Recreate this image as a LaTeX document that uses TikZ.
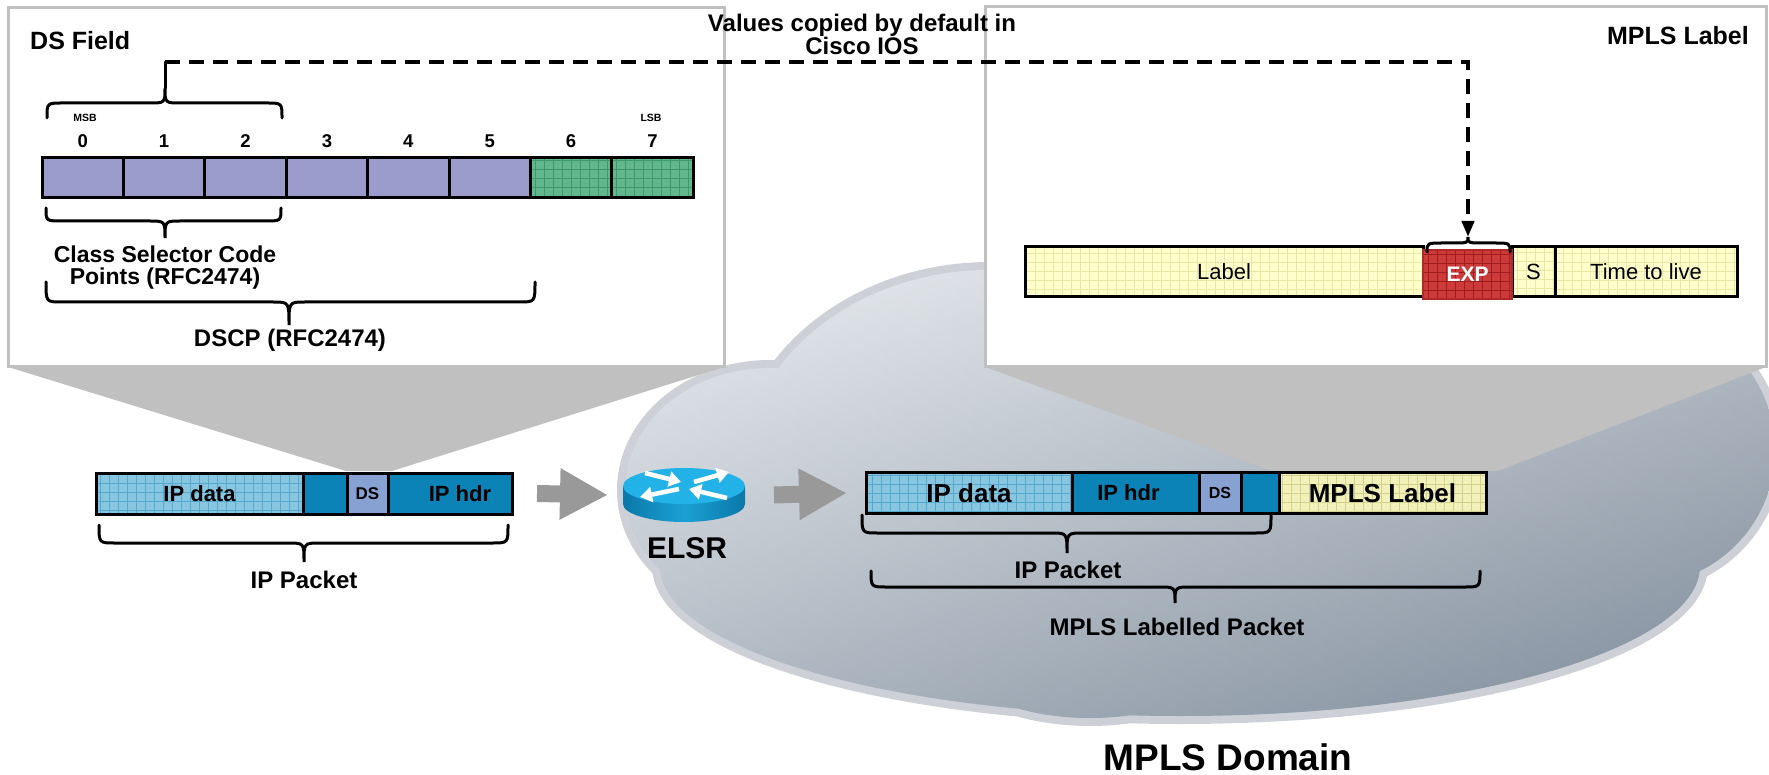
\documentclass[tikz,border=0pt]{standalone}
\usepackage{fontspec}
\setmainfont{Liberation Sans}
\usetikzlibrary{arrows.meta}

\definecolor{panelgray}{HTML}{C0C0C0}
\definecolor{arrowgray}{HTML}{999999}
\definecolor{bitpurple}{HTML}{9C9CCC}
\definecolor{bitgreen}{HTML}{62B88C}
\definecolor{bitgrid}{HTML}{3E9A6C}
\definecolor{ipdatablue}{HTML}{88C6E0}
\definecolor{ipgrid}{HTML}{55A8CE}
\definecolor{hdrblue}{HTML}{0B83B7}
\definecolor{dsblue}{HTML}{86A1D2}
\definecolor{labelyellow}{HTML}{FFFFCC}
\definecolor{labelgrid}{HTML}{E8E8A6}
\definecolor{mplsyellow}{HTML}{F0F0B8}
\definecolor{mplsgrid}{HTML}{D2D28E}
\definecolor{expred}{HTML}{CC3A3A}
\definecolor{expgrid}{HTML}{A01E1E}
\definecolor{expedge}{HTML}{B02828}
\definecolor{cloudtop}{HTML}{E2E6EB}
\definecolor{cloudmid}{HTML}{C3CBD5}
\definecolor{cloudbot}{HTML}{8593A2}
\definecolor{cloudrim}{HTML}{6F7C8B}
\definecolor{routertop}{HTML}{22B2E8}
\definecolor{routerside}{HTML}{0A78A8}

% curly brace: x1, x2, x of the tip, y of the ends, y of the flat part, y of the tip
\newcommand{\curlybrace}[6]{%
	\draw[brc] (#1,#4) .. controls (#1,#5) .. (#1+16,#5) -- (#3-16,#5)
		.. controls (#3,#5) .. (#3,#6) .. controls (#3,#5) .. (#3+16,#5)
		-- (#2-16,#5) .. controls (#2,#5) .. (#2,#4);}

% outline of the cloud as a union of ellipses
\newcommand{\cloudpath}{
	(990,480) ellipse [x radius=250pt, y radius=210pt]
	(770,490) ellipse [x radius=145pt, y radius=122pt]
	(1200,470) ellipse [x radius=500pt, y radius=190pt]
	(1180,566) ellipse [x radius=520pt, y radius=150pt]
	(1090,640) ellipse [x radius=150pt, y radius=78pt]
	(1640,450) ellipse [x radius=135pt, y radius=135pt]}

\begin{document}
\begin{tikzpicture}[x=1pt,y=-1pt,
				panel/.style={fill=white,draw=panelgray,line width=3pt},
				zoomwedge/.style={fill=panelgray},
				hatch/.style={path picture={\draw[#1,line width=0.6pt,step=9pt]
						(path picture bounding box.south west) grid
						(path picture bounding box.north east);}},
				bitcell/.style={draw=black,line width=3pt,minimum width=81.4pt,
					minimum height=40pt,inner sep=0pt,outer sep=0pt},
				pktseg/.style={draw=black,line width=3pt,minimum height=41pt,
					inner sep=0pt,outer sep=0pt,font=\bfseries\fontsize{22}{24}\selectfont},
				fieldbox/.style={draw=black,line width=3pt,minimum height=50pt,
					inner sep=0pt,outer sep=0pt,font=\fontsize{22}{24}\selectfont},
				expbox/.style={draw=expedge,line width=1.5pt,fill=expred,hatch=expgrid,
					minimum height=49pt,inner sep=0pt,outer sep=0pt,text=white,
					font=\bfseries\fontsize{21}{24}\selectfont},
				brc/.style={draw=black,line width=3pt,line cap=round},
				copyline/.style={draw=black,line width=4pt,dash pattern=on 15pt off 9pt,
					-{Triangle[length=16pt,width=12pt]}},
				fwd/.style={draw=arrowgray,line width=17pt,
					-{Triangle[length=48pt,width=48pt]}},
				rarrow/.style={draw=white,line width=4.5pt,
					-{Triangle[length=12pt,width=15pt]}},
				headtxt/.style={anchor=base,inner sep=0pt,font=\bfseries\fontsize{25}{27}\selectfont},
				midtxt/.style={anchor=base,inner sep=0pt,font=\bfseries\fontsize{24}{26}\selectfont},
				bittxt/.style={anchor=base,inner sep=0pt,font=\bfseries\fontsize{18.5}{20}\selectfont},
				tinytxt/.style={anchor=base,inner sep=0pt,font=\bfseries\fontsize{10.5}{12}\selectfont}]

				\useasboundingbox (0,0) rectangle (1769,775);

				%%%%%%%%%%%%%%%%  cloud  %%%%%%%%%%%%%%%%
				\begin{scope}[transparency group,opacity=0.35]
					\draw[cloudrim,line width=16pt] \cloudpath;
				\end{scope}
				\shade[top color=cloudtop,middle color=cloudmid,bottom color=cloudbot] \cloudpath;
				\shade[left color=white,right color=cloudrim,opacity=0.35] \cloudpath;

				%%%%%%%%%%%%%%%%  zoom wedges and panels  %%%%%%%%%%%%%%%%
				\fill[zoomwedge] (8,367) -- (724,367) -- (392,471) -- (346,471) -- cycle;
				\fill[zoomwedge] (985,367) -- (1766,367) -- (1498,471) -- (1272,471) -- cycle;
				\draw[panel] (8,8) rectangle (724,367);
				\draw[panel] (985,7) rectangle (1766,367);

				%%%%%%%%%%%%%%%%  DS field  %%%%%%%%%%%%%%%%
				\node[headtxt,anchor=base west] (dsfield) at (30,50) {DS Field};
				\foreach \b in {0,...,5}
					\node[bitcell,fill=bitpurple] (bit\b) at ({82.7+81.4*\b},178) {};
				\foreach \b in {6,7}
					\node[bitcell,fill=bitgreen,hatch=bitgrid] (bit\b) at ({82.7+81.4*\b},178) {};
				\foreach \b in {0,...,7}
					\node[bittxt] (num\b) at ({82.7+81.4*\b},148) {\b};
				\node[tinytxt] (msb) at (85,122) {MSB};
				\node[tinytxt] (lsb) at (651,122) {LSB};
				% braces round the class selector bits and the DSCP
				\curlybrace{47}{282}{165}{118}{103}{88}
				\curlybrace{46}{281}{165}{208}{221}{238}
				\curlybrace{46}{535}{289}{282}{302}{325}
				\node[midtxt,anchor=north,align=center,
					font=\bfseries\fontsize{23}{22}\selectfont] (csel) at (165,246)
					{Class Selector Code\\Points (RFC2474)};
				\node[midtxt] (dscp) at (290,347) {DSCP (RFC2474)};

				%%%%%%%%%%%%%%%%  MPLS label  %%%%%%%%%%%%%%%%
				\node[headtxt,anchor=base east] (mplstitle) at (1749,45) {MPLS Label};
				\node[fieldbox,fill=labelyellow,hatch=labelgrid,minimum width=398pt]
					(lbl) at (1224,272) {Label};
				\node[fieldbox,fill=labelyellow,hatch=labelgrid,minimum width=43pt]
					(sbit) at (1533.5,272) {S};
				\node[fieldbox,fill=labelyellow,hatch=labelgrid,minimum width=182pt]
					(ttl) at (1646,272) {Time to live};
				\node[expbox,minimum width=89pt] (exp) at (1467.5,274.5) {EXP};
				\curlybrace{1427}{1510}{1468}{252}{243}{237}

				% the copied bits
				\coordinate (cstop) at (165,62);
				\coordinate (exptip) at (1468,237);
				\draw[brc] (165,88) -- (cstop);
				\draw[copyline] (cstop) -| (exptip);
				\node[midtxt,anchor=north,align=center,
					font=\bfseries\fontsize{24}{22}\selectfont] (copynote) at (862,14)
					{Values copied by default in\\Cisco IOS};

				%%%%%%%%%%%%%%%%  IP packet  %%%%%%%%%%%%%%%%
				\node[pktseg,fill=ipdatablue,hatch=ipgrid,minimum width=207pt]
					(dataL) at (199.5,493.5) {IP data};
				\node[pktseg,fill=hdrblue,minimum width=44pt] (padL) at (325,493.5) {};
				\node[pktseg,fill=dsblue,minimum width=41pt,
					font=\bfseries\fontsize{17}{19}\selectfont] (dsL) at (367.5,493.5) {DS};
				\node[pktseg,fill=hdrblue,minimum width=124pt] (hdrL) at (450,493.5)
					{\hspace*{20pt}IP hdr};
				\curlybrace{99}{508}{304}{525}{543}{562}
				\node[midtxt] (ippktL) at (304,588) {IP Packet};

				%%%%%%%%%%%%%%%%  edge router  %%%%%%%%%%%%%%%%
				\node[inner sep=0pt,outer sep=0pt,minimum width=122pt,minimum height=54pt]
					(elsr) at (684,495) {};
				\shade[left color=routerside,right color=routerside,middle color=routertop!70!routerside]
					(623,486) -- (623,504) arc[start angle=180,end angle=360,
					x radius=61pt,y radius=18pt] -- (745,486) -- cycle;
				\fill[routertop] (684,486) ellipse [x radius=61pt,y radius=18pt];
				\draw[rarrow] (645,473) -- (681,482);
				\draw[rarrow] (694,482) -- (729,472);
				\draw[rarrow] (679,489) -- (640,497);
				\draw[rarrow] (727,498) -- (689,489);
				\node[anchor=base,inner sep=0pt,font=\bfseries\fontsize{30}{32}\selectfont]
					(elsrlbl) at (687,558) {ELSR};

				%%%%%%%%%%%%%%%%  MPLS labelled packet  %%%%%%%%%%%%%%%%
				\node[pktseg,fill=ipdatablue,hatch=ipgrid,minimum width=206pt,
					font=\bfseries\fontsize{26}{28}\selectfont] (dataR) at (969,493) {IP data};
				\node[pktseg,fill=hdrblue,minimum width=127pt] (hdrR) at (1135.5,493)
					{IP hdr\hspace*{14pt}};
				\node[pktseg,fill=dsblue,minimum width=42pt,
					font=\bfseries\fontsize{16}{18}\selectfont] (dsR) at (1220,493) {DS};
				\node[pktseg,fill=hdrblue,minimum width=38pt] (padR) at (1260,493) {};
				\node[pktseg,fill=mplsyellow,hatch=mplsgrid,minimum width=207pt,
					font=\bfseries\fontsize{26}{28}\selectfont] (mplsR) at (1382.5,493) {MPLS Label};
				\curlybrace{862}{1271}{1067}{515}{533}{553}
				\node[midtxt] (ippktR) at (1068,578) {IP Packet};
				\curlybrace{871}{1480}{1175}{571}{587}{603}
				\node[midtxt] (mplspkt) at (1177,635) {MPLS Labelled Packet};

				% forwarding arrows
				\draw[fwd] ([xshift=25pt]hdrL.east) -- ([xshift=-15pt]elsr.west);
				\draw[fwd] ([xshift=29pt]elsr.east) -- ([xshift=-19pt]dataR.west);

				\node[anchor=base,inner sep=0pt,font=\bfseries\fontsize{37}{40}\selectfont]
					(domain) at (1228,770) {MPLS Domain};
			\end{tikzpicture}
\end{document}
